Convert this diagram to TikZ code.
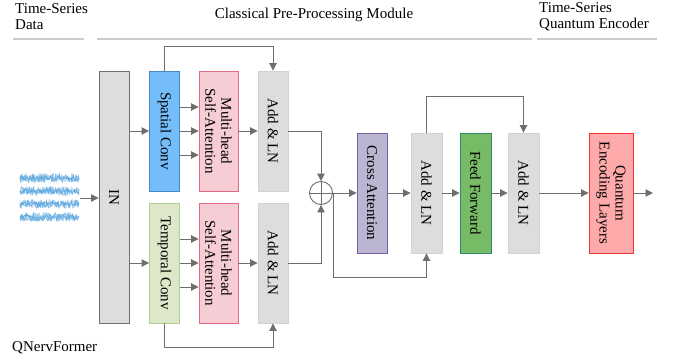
\documentclass[tikz,border=0pt]{standalone}
\usepackage{fontspec}
\setmainfont{Liberation Serif}
\usetikzlibrary{arrows.meta,calc}
\definecolor{linegray}{HTML}{6E6E6E}
\definecolor{rulegray}{HTML}{CCCCCC}
\definecolor{boxgray}{HTML}{DDDDDD}
\definecolor{boxgrayline}{HTML}{D2D2D2}
\definecolor{ingrayline}{HTML}{707070}
\definecolor{spfill}{HTML}{75BCFA}
\definecolor{spline}{HTML}{4A88C4}
\definecolor{tcfill}{HTML}{DDE8CB}
\definecolor{tcline}{HTML}{B0D090}
\definecolor{mhfill}{HTML}{F7CDD5}
\definecolor{mhline}{HTML}{E06A80}
\definecolor{cafill}{HTML}{BAB5D1}
\definecolor{caline}{HTML}{7B5EA7}
\definecolor{fffill}{HTML}{77BB66}
\definecolor{ffline}{HTML}{2D8A6A}
\definecolor{qfill}{HTML}{FFAAAA}
\definecolor{qline}{HTML}{EE3333}
\definecolor{sigblue}{HTML}{5AA6DE}
\begin{document}
\begin{tikzpicture}[x=1pt,y=-1pt,
  every node/.style={font=\fontsize{15}{16}\selectfont, inner sep=0pt},
  blk/.style={draw, line width=0.9pt, minimum width=30pt, minimum height=120pt},
  lbl/.style={rotate=-90, align=center, text=black},
  arr/.style={draw=linegray, line width=0.9pt, -{Triangle[length=7.5pt,width=7.5pt]}},
  ln/.style={draw=linegray, line width=0.9pt},
  rule/.style={draw=rulegray, line width=1.5pt}]
\useasboundingbox (0,0) rectangle (678,362);

% headers
\node[anchor=north west, align=left] (hdata) at (15,3) {Time-Series\\Data};
\node (hclass) at (314,15) {Classical Pre-Processing Module};
\node[anchor=north west, align=left] (henc) at (539,2) {Time-Series\\Quantum Encoder};
\node[anchor=west] (qname) at (12,348) {QNervFormer};
\draw[rule] (13,39) -- (84,39);
\draw[rule] (97,39) -- (532,39);
\draw[rule] (537,39) -- (657,39);

% signals
\pgfmathsetseed{7}
\foreach \yy in {178,191,204,217}{
  \draw[sigblue!45, line width=1.2pt, line join=round] plot[domain=20:79, samples=100] (\x, {\yy + 4.2*rand});
  \draw[sigblue!80, line width=0.6pt, line join=round] plot[domain=20:79, samples=110] (\x, {\yy + 4.5*rand});
  \draw[sigblue, line width=0.5pt, line join=round] plot[domain=20:79, samples=80] (\x, {\yy + 2.5*rand});
}
\coordinate (dataend) at (80,198);

% boxes
\node[blk, draw=ingrayline, fill=boxgray, minimum height=252pt] (in) at (114,197) {};
\node[lbl] (intext) at (in.center) {IN};

\node[blk, draw=spline, fill=spfill] (sc) at (164.5,131) {};
\node[lbl] at (sc.center) {Spatial Conv};
\node[blk, draw=mhline, fill=mhfill, minimum width=39pt] (mh1) at (218.5,131) {};
\node[lbl] at (mh1.center) {Multi-head\\Self-Attention};
\node[blk, draw=boxgrayline, fill=boxgray] (al1) at (273,131) {};
\node[lbl] at (al1.center) {Add \& LN};

\node[blk, draw=tcline, fill=tcfill] (tc) at (164.5,263) {};
\node[lbl] at (tc.center) {Temporal Conv};
\node[blk, draw=mhline, fill=mhfill, minimum width=39pt] (mh2) at (218.5,263) {};
\node[lbl] at (mh2.center) {Multi-head\\Self-Attention};
\node[blk, draw=boxgrayline, fill=boxgray] (al2) at (273,263) {};
\node[lbl] at (al2.center) {Add \& LN};

\node[circle, draw=linegray, line width=0.9pt, minimum size=23pt] (sum) at (321,193) {};
\draw[ln] (sum.north) -- (sum.south) (sum.west) -- (sum.east);

\node[blk, draw=caline, fill=cafill] (ca) at (372,193) {};
\node[lbl] at (ca.center) {Cross Attention};
\node[blk, draw=boxgrayline, fill=boxgray, minimum width=31pt] (al3) at (426.5,193) {};
\node[lbl] at (al3.center) {Add \& LN};
\node[blk, draw=ffline, fill=fffill, minimum width=31pt] (ff) at (475.5,193) {};
\node[lbl] at (ff.center) {Feed Forward};
\node[blk, draw=boxgrayline, fill=boxgray, minimum width=31pt] (al4) at (523.5,193) {};
\node[lbl] at (al4.center) {Add \& LN};
\node[blk, draw=qline, fill=qfill, minimum width=44pt] (qe) at (611,193) {};
\node[lbl] at (qe.center) {Quantum\\Encoding Layers};
\coordinate (out) at (653,193);

% connectors
\draw[arr] (dataend) -- (dataend -| in.west);
\draw[arr] (in.east |- sc.west) -- (sc.west);
\draw[arr] (in.east |- tc.west) -- (tc.west);
\foreach \d in {-24,0,24}{
  \draw[arr] ($(sc.east)+(0,\d)$) -- ($(mh1.west)+(0,\d)$);
  \draw[arr] ($(tc.east)+(0,\d)$) -- ($(mh2.west)+(0,\d)$);
}
\draw[arr] (mh1.east) -- (al1.west);
\draw[arr] (mh2.east) -- (al2.west);
\draw[arr] (sc.north) -- ++(0,-24) -| (al1.north);
\draw[arr] (tc.south) -- ++(0,24) -| (al2.south);
\draw[arr] (al1.east) -| (sum.north);
\draw[arr] (al2.east) -| (sum.south);
\draw[arr] (sum.east) -- (ca.west);
\draw[arr] (ca.east) -- (al3.west);
\draw[arr] (al3.east) -- (ff.west);
\draw[arr] (ff.east) -- (al4.west);
\draw[arr] (al4.east) -- (qe.west);
\draw[arr] (qe.east) -- (out);
\draw[arr] (al3.north) -- ++(0,-36) -| (al4.north);
\draw[arr] (sum.east) -- ++(0,84) -| (al3.south);
\end{tikzpicture}
\end{document}
